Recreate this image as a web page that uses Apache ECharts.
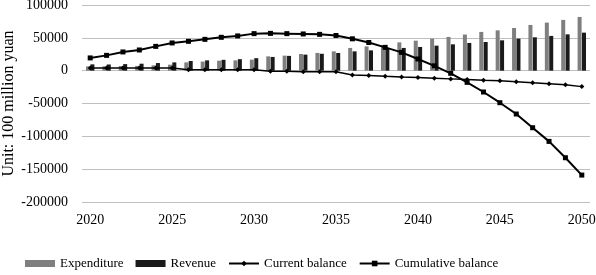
<!DOCTYPE html>
<html>
<head>
<meta charset="utf-8">
<script src="https://cdn.jsdelivr.net/npm/echarts@6/dist/echarts.min.js"></script>
<style>
  html, body { margin: 0; padding: 0; background: #fff; }
  #chart { width: 596px; height: 275px; }
</style>
</head>
<body>
<div id="chart"></div>
<script>
const years = [];
for (let y = 2020; y <= 2050; y++) years.push(String(y));

const expenditure = [6500, 6600, 7100, 7300, 8100, 9100, 12600, 13900, 15200, 15700, 16800,
  21800, 22900, 25400, 27000, 29400, 34600, 37000, 38600, 43100, 45700,
  48800, 51400, 55000, 59000, 61400, 65000, 69600, 73200, 77300, 81800];
const revenue = [9600, 9400, 10000, 10600, 11600, 12600, 14700, 15700, 16500, 17500, 19000,
  20900, 22500, 24400, 25700, 26900, 29400, 30900, 33500, 34600, 36100,
  38100, 40100, 42200, 43700, 46200, 48800, 50800, 52900, 55300, 57900];
const currentBalance = [4000, 4000, 4000, 4000, 4000, 4000, 1500, 1500, 1500, 1500, 1500,
  -1000, -1000, -1500, -1500, -1700, -6500, -7500, -8600, -9600, -10500,
  -11500, -12500, -13500, -14700, -15500, -17000, -18500, -19800, -21500, -24300];
const cumulativeBalance = [19400, 23300, 28500, 31500, 37000, 42200, 44700, 47700, 50800, 52900, 56400,
  56800, 56400, 55900, 55300, 53600, 48500, 42900, 35500, 27900, 17800,
  7400, -4000, -17800, -32500, -48800, -66000, -86900, -107700, -132600, -159000];

const font = 'Liberation Serif, Times New Roman, serif';
const chart = echarts.init(document.getElementById('chart'), null, { renderer: 'canvas' });

chart.setOption({
  animation: false,
  textStyle: { fontFamily: font, color: '#000' },
  grid: { left: 82, right: 6, top: 5, bottom: 73, outerBoundsMode: 'none' },
  legend: {
    bottom: 0,
    left: 20,
    itemGap: 12,
    itemWidth: 30,
    itemHeight: 7,
    textStyle: { fontFamily: font, fontSize: 13, color: '#000' },
    data: [
      { name: 'Expenditure', icon: 'rect' },
      { name: 'Revenue', icon: 'rect' },
      { name: 'Current balance' },
      { name: 'Cumulative balance' }
    ]
  },
  xAxis: {
    type: 'category',
    data: years,
    axisLine: { show: false, onZero: false },
    axisTick: { show: false },
    axisLabel: { interval: 4, fontSize: 14, fontFamily: font, color: '#000', margin: 11 }
  },
  yAxis: {
    type: 'value',
    min: -200000,
    max: 100000,
    interval: 50000,
    name: 'Unit: 100 million yuan',
    nameLocation: 'middle',
    nameGap: 65,
    nameMoveOverlap: false,
    nameTextStyle: { fontFamily: font, fontSize: 16, color: '#000' },
    axisLine: { show: false },
    axisTick: { show: false },
    axisLabel: {
      fontSize: 14, fontFamily: font, color: '#000', margin: 14,
      formatter: (v) => String(v)
    },
    splitLine: { lineStyle: { color: '#bfbfbf', width: 1 } }
  },
  series: [
    {
      name: 'Expenditure', type: 'bar', data: expenditure,
      barWidth: 4, barGap: '10%',
      itemStyle: { color: '#7f7f7f' }
    },
    {
      name: 'Revenue', type: 'bar', data: revenue,
      barWidth: 4,
      itemStyle: { color: '#1a1a1a' }
    },
    {
      name: 'Current balance', type: 'line', data: currentBalance,
      symbol: 'diamond', symbolSize: 5,
      lineStyle: { color: '#000', width: 1.5 },
      itemStyle: { color: '#000' }
    },
    {
      name: 'Cumulative balance', type: 'line', data: cumulativeBalance,
      symbol: 'rect', symbolSize: 5,
      lineStyle: { color: '#000', width: 2 },
      itemStyle: { color: '#000' }
    }
  ]
});
</script>
</body>
</html>
